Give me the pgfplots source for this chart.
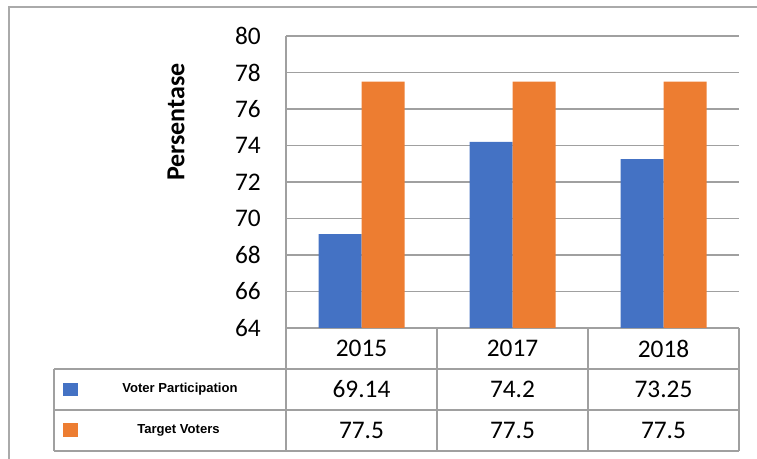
\documentclass[border=0pt]{standalone}
\usepackage{pgfplots}
\pgfplotsset{compat=1.18}
\usepackage{fontspec}
\setmainfont{Carlito}
\newfontfamily\arialfont{Liberation Sans}
\definecolor{barblue}{RGB}{68,114,196}
\definecolor{barorange}{RGB}{237,125,49}
\definecolor{gridgray}{RGB}{160,160,160}
\definecolor{framegray}{RGB}{170,170,170}
\begin{document}
\begin{tikzpicture}[x=0.75pt,y=0.75pt]
\useasboundingbox (0,0) rectangle (757,459);
% outer frame
\draw[framegray, line width=1.1pt] (9,0) -- (9,452) -- (757,452);
\begin{axis}[
  at={(214.5pt,98.25pt)}, anchor=south west,
  width=339.75pt, height=219pt, scale only axis,
  ymin=64, ymax=80, ytick={64,66,...,80},
  xmin=-0.5, xmax=2.5, xtick=\empty,
  ybar=0pt, bar width=32.25pt,
  axis line style={draw=none},
  ymajorgrids, grid style={line width=1.1pt, color=gridgray},
  major tick length=0pt,
  /pgf/number format/assume math mode=true,
  yticklabel style={font=\fontsize{19}{23}\selectfont, inner sep=0pt, xshift=-18.75pt},
  ylabel={\bfseries Persentase},
  ylabel style={font=\fontsize{19.5}{23}\selectfont, at={(axis description cs:-0.243,0.705)}, anchor=center},
]
\addplot[fill=barblue, draw=none] coordinates {(0,69.14) (1,74.2) (2,73.25)};
\addplot[fill=barorange, draw=none] coordinates {(0,77.5) (1,77.5) (2,77.5)};
\end{axis}
% table lines (image y -> 459 - y)
\begin{scope}[gridgray, line width=1.1pt]
\draw (286,423) -- (286,8);
\draw (54,90) -- (739,90);
\draw (54,49) -- (739,49);
\draw (54,8) -- (739,8);
\draw (54,90) -- (54,8);
\draw (437,131) -- (437,8);
\draw (588,131) -- (588,8);
\draw (739,131) -- (739,8);
\end{scope}
% header and values
\begin{scope}[every node/.style={font=\fontsize{19}{23}\selectfont, inner sep=0pt}]
\node at (361.5,110.5) {2015};
\node at (512.5,110.5) {2017};
\node at (663.5,110.5) {2018};
\node at (361.5,69.5) {69.14};
\node at (512.5,69.5) {74.2};
\node at (663.5,69.5) {73.25};
\node at (361.5,28.5) {77.5};
\node at (512.5,28.5) {77.5};
\node at (663.5,28.5) {77.5};
\end{scope}
% legend keys
\fill[barblue] (63,63) rectangle (78,76);
\fill[barorange] (63,22) rectangle (78,36);
\node[font=\arialfont\bfseries\fontsize{9.8}{12}\selectfont, inner sep=0pt] at (180,69.5) {Voter Participation};
\node[font=\arialfont\bfseries\fontsize{9.8}{12}\selectfont, inner sep=0pt] at (178.5,28.5) {Target Voters};
\end{tikzpicture}
\end{document}
